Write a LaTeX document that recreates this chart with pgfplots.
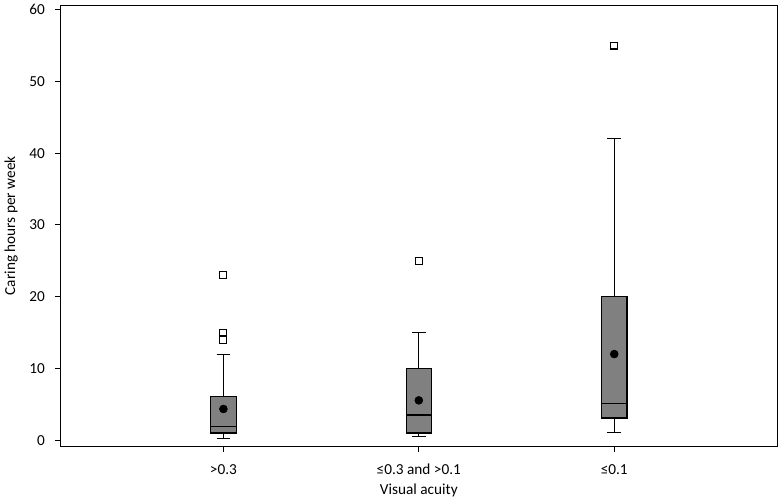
\documentclass[border=0pt]{standalone}
\usepackage{pgfplots}
\pgfplotsset{compat=1.18}
\usepgfplotslibrary{statistics}
\usepackage{fontspec}
\setmainfont{Carlito}
\definecolor{boxgray}{RGB}{128,128,128}
\begin{document}
\begin{tikzpicture}
\begin{axis}[
    scale only axis,
    width=540pt, height=332pt,
    xmin=0.165, xmax=3.835,
    ymin=-0.85, ymax=60.6,
    xtick={1,2,3},
    xticklabels={>0.3, ≤0.3 and >0.1, ≤0.1},
    ytick={0,10,...,60},
    xtick pos=bottom, ytick pos=left,
    tick align=outside,
    major tick length=4pt,
    tick style={black, line width=0.8pt},
    axis line style={line width=0.9pt},
    /pgf/number format/assume math mode=true,
    tick label style={font=\fontsize{11.5}{13}\selectfont},
    yticklabel style={xshift=-4pt},
    xticklabel style={yshift=-6pt},
    label style={font=\fontsize{11.5}{13}\selectfont},
    xlabel={Visual acuity},
    ylabel={Caring hours per week},
    xlabel style={yshift=0.5pt},
    ylabel style={yshift=2pt},
    boxplot/draw direction=y,
    boxplot/box extend=0.13,
    boxplot/whisker extend=0.07,
    boxplot/every box/.style={draw=black, fill=boxgray, line width=0.9pt},
    boxplot/every whisker/.style={black, line width=0.8pt},
    boxplot/every median/.style={black, line width=0.9pt},
    boxplot/every average/.style={/tikz/mark=*, /tikz/mark size=3pt, /tikz/mark options={fill=black, draw=black}},
]
\addplot[boxplot prepared={draw position=1,
    lower whisker=0.2, lower quartile=1.0, median=1.9,
    upper quartile=6.1, upper whisker=12, average=4.35},
    mark=square, mark size=2.6pt, mark options={fill=white, draw=black, line width=0.8pt}]
  coordinates {(0,23) (0,15) (0,14)};
\addplot[boxplot prepared={draw position=2,
    lower whisker=0.5, lower quartile=1.0, median=3.5,
    upper quartile=10, upper whisker=15, average=5.55},
    mark=square, mark size=2.6pt, mark options={fill=white, draw=black, line width=0.8pt}]
  coordinates {(0,25)};
\addplot[boxplot prepared={draw position=3,
    lower whisker=1.05, lower quartile=3.1, median=5.1,
    upper quartile=20, upper whisker=42, average=12},
    mark=square, mark size=2.6pt, mark options={fill=white, draw=black, line width=0.8pt}]
  coordinates {(0,55)};
\end{axis}
\end{tikzpicture}
\end{document}
